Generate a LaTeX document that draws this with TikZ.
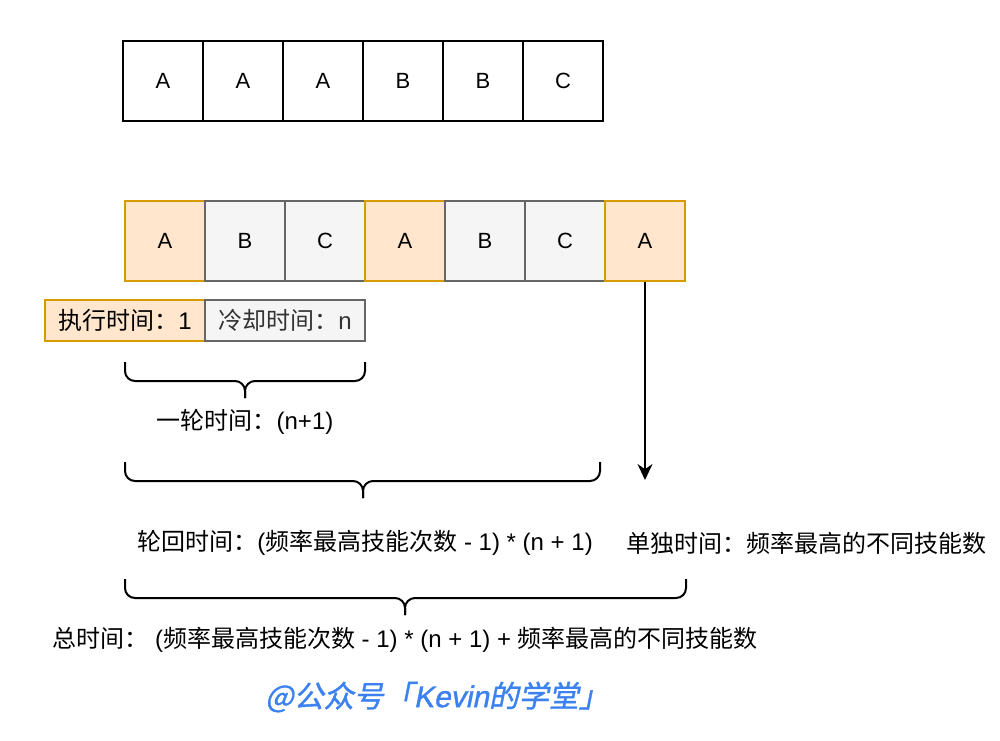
\documentclass[tikz,border=0pt]{standalone}
\usepackage{fontspec}
\setmainfont{Noto Sans CJK SC}
\newfontfamily\lat{Liberation Sans}
\newfontfamily\wmfont[FakeSlant=0.2,FakeBold=1.2]{Noto Sans CJK SC}
\newfontfamily\wmlat[FakeSlant=0.2,FakeBold=1.2]{Liberation Sans}
\usetikzlibrary{arrows.meta}
\definecolor{taskfill}{RGB}{255,230,204}
\definecolor{taskline}{RGB}{215,155,0}
\definecolor{idlefill}{RGB}{245,245,245}
\definecolor{idleline}{RGB}{102,102,102}
\definecolor{idletext}{RGB}{51,51,51}
\definecolor{wmblue}{RGB}{59,130,240}
\tikzset{
  cell/.style={draw, line width=1pt, minimum width=40pt, minimum height=40pt,
    inner sep=0pt, font=\lat\fontsize{11}{13}\selectfont},
  taskcell/.style={cell, fill=taskfill, draw=taskline},
  idlecell/.style={cell, fill=idlefill, draw=idleline},
  txt/.style={inner sep=0pt, anchor=west, font=\fontsize{12}{14}\selectfont},
  bracket/.style={line width=1pt, rounded corners=5pt},
}
\begin{document}
\begin{tikzpicture}[x=0.5pt, y=-0.5pt]
                % \clip (0,0) rectangle (1000,740);
                \fill[white] (0,0) rectangle (1000,740);
                
                % Drawing task list
                \foreach \ch [count=\i] in {A,A,A,B,B,C}
                  \node[cell] (t\i) at ({83+80*\i},80.5) {\ch};%
                
                % Drawing scheduled order
                \foreach \ch/\sty [count=\i] in {A/taskcell,B/idlecell,C/idlecell,A/taskcell,B/idlecell,C/idlecell,A/taskcell}
                  \node[\sty] (r\i) at ({85+80*\i},241) {\ch};%
                
                % Drawing execute and cooldown boxes
                \node[taskcell, minimum width=80pt, minimum height=20.5pt, font=\fontsize{12}{14}\selectfont] (exec) at (125,320.5) {执行时间：{\lat 1}};%
                \node[idlecell, minimum width=80pt, minimum height=20.5pt, font=\fontsize{12}{14}\selectfont, text=idletext] (cool) at (285,320.5) {冷却时间：{\lat n}};%
                
                % Drawing bracket of one round
                \draw[bracket] (125,362) -- (125,381) -- (245,381) -- (245,398);%
                \draw[bracket] (365,362) -- (365,381) -- (245,381) -- (245,398);%
                \node[txt, anchor=center] (roundlbl) at (245,422) {一轮时间：{\lat (n+1)}};%
                
                % Drawing bracket of all rounds
                \draw[bracket] (125,462) -- (125,481) -- (363,481) -- (363,498);%
                \draw[bracket] (600,462) -- (600,481) -- (363,481) -- (363,498);%
                \node[txt] (cyclelbl) at (137,543) {轮回时间：{\lat (}频率最高技能次数{\lat\ - 1) * (n + 1)}};%
                
                % Drawing arrow of last task
                \coordinate (lastend) at (645,480);
                \draw[line width=1pt, -{Stealth[length=8pt,width=7.5pt]}] (r7.south) -- (lastend);%
                \node[txt] (singlelbl) at (626,543) {单独时间：频率最高的不同技能数};%
                
                % Drawing bracket of total time
                \draw[bracket] (125,579) -- (125,598) -- (405,598) -- (405,615);%
                \draw[bracket] (686,579) -- (686,598) -- (405,598) -- (405,615);%
                \node[txt] (totallbl) at (52,640) {总时间：{\lat\ (}频率最高技能次数{\lat\ - 1) * (n + 1) + }频率最高的不同技能数};%
                
                % Marking watermark
                \node[txt, text=wmblue, font=\wmfont\fontsize{15}{17}\selectfont] (wm) at (265,697) {@公众号「{\wmlat Kevin}的学堂」};%
\end{tikzpicture}
\end{document}
